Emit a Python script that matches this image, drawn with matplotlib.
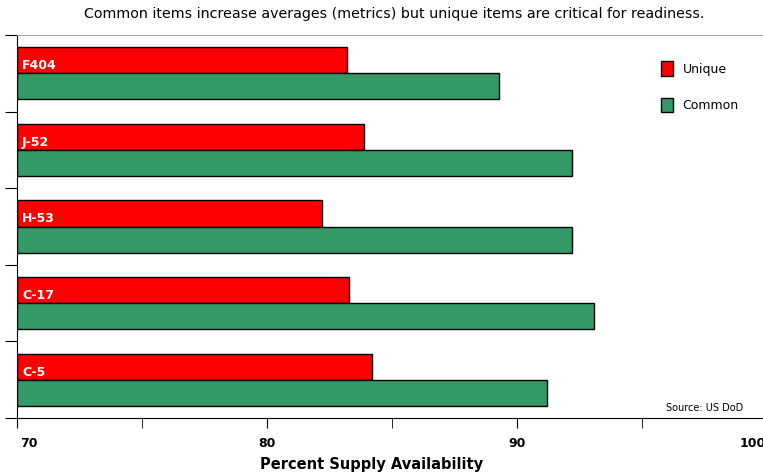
import numpy as np
import matplotlib.pyplot as plt
from matplotlib.transforms import ScaledTranslation

cats = ["F404", "J-52", "H-53", "C-17", "C-5"]
unique = [83.2, 83.9, 82.2, 83.3, 84.2]
common = [89.3, 92.2, 92.2, 93.1, 91.2]
xticks = [70, 80, 90, 100]

W, H = 763, 475
fig = plt.figure(figsize=(W / 100, H / 100), dpi=100)
ax = fig.add_axes([17 / W, (H - 418) / H, 750 / W, 383 / H])

y = np.arange(len(cats))
h = 0.34
ax.barh(y - h / 2, np.array(unique) - 70, h, left=70, color="#ff0000",
        edgecolor="black", linewidth=1, label="Unique")
ax.barh(y + h / 2, np.array(common) - 70, h, left=70, color="#339966",
        edgecolor="black", linewidth=1, label="Common")

for i, c in enumerate(cats):
    ax.text(70.2, i - h / 2 + 0.07, c, color="white", fontweight="bold",
            fontsize=9, va="center", ha="left")

ax.set_xlim(70, 100)
ax.set_ylim(len(cats) - 0.5, -0.5)
ax.set_xticks(xticks)
ax.set_xticks([75, 85, 95], minor=True)
ax.set_xticklabels([str(t) for t in xticks], fontweight="bold", fontsize=9)
ax.tick_params(axis="x", which="both", direction="out", length=7, pad=7)
labs = ax.get_xticklabels()
labs[0].set_ha("left")
labs[0].set_transform(labs[0].get_transform() + ScaledTranslation(3 / 100, 0, fig.dpi_scale_trans))
labs[-1].set_ha("left")
labs[-1].set_transform(labs[-1].get_transform() + ScaledTranslation(-27 / 100, 0, fig.dpi_scale_trans))
ax.set_yticks(np.arange(-0.5, len(cats) + 0.5, 1))
ax.set_yticklabels([])
ax.tick_params(axis="y", direction="out", length=9)

ax.spines["right"].set_visible(False)
ax.spines["top"].set_color("#aaaaaa")

ax.set_xlabel("Percent Supply Availability", fontweight="bold", fontsize=10.5)
ax.xaxis.set_label_coords((372 - 17) / 750, -0.102)

fig.text(394 / W, 1 - 14 / H, "Common items increase averages (metrics) but unique items are critical for readiness.",
         ha="center", va="center", fontsize=10.25)

leg = ax.legend(loc="upper left", bbox_to_anchor=((650 - 17) / 750, 1 - 15 / 383), frameon=False,
                fontsize=9, handlelength=0.9, handleheight=1.4, labelspacing=1.75, handletextpad=0.8)

fig.text(743 / W, 1 - 408 / H, "Source: US DoD", ha="right", va="center", fontsize=7)

fig.savefig("out.png", dpi=100)
